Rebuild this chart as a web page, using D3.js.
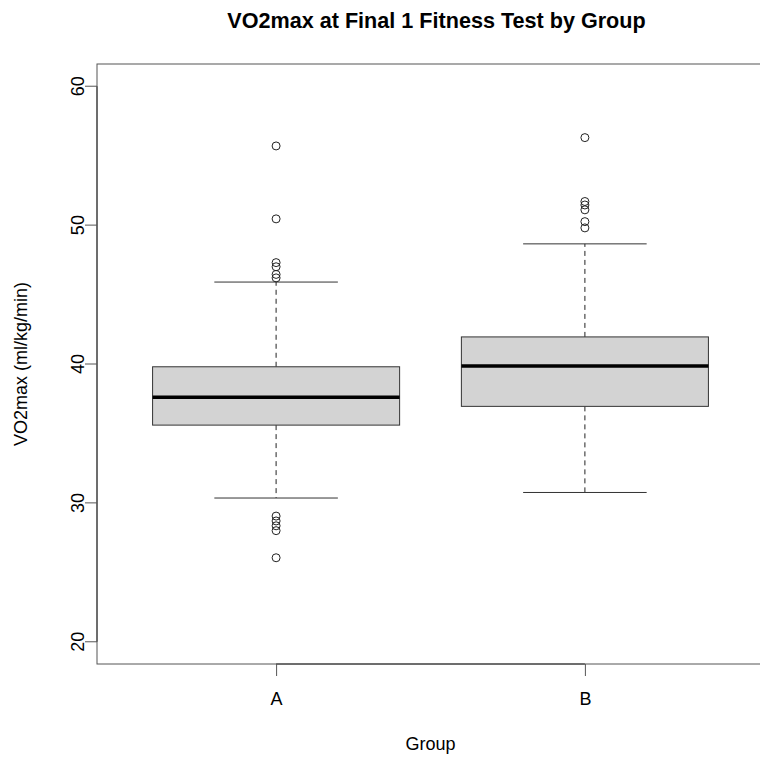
<!DOCTYPE html>
<html>
<head>
<meta charset="utf-8">
<script src="https://cdn.jsdelivr.net/npm/d3@7"></script>
<style>
  body { margin: 0; background: #fff; }
  text { font-family: "Liberation Sans", Arial, Helvetica, sans-serif; fill: #000; }
</style>
</head>
<body>
<div id="chart"></div>
<script>
const GROUPS = ["A", "B"];
const Q1 = [35.6, 36.95];
const MEDIAN = [37.6, 39.85];
const Q3 = [39.8, 41.95];
const WHISKER_LOW = [30.35, 30.75];
const WHISKER_HIGH = [45.9, 48.65];
const OUTLIERS_A = [55.7, 50.45, 47.3, 47.0, 46.45, 46.2, 29.05, 28.7, 28.35, 28.0, 26.05];
const OUTLIERS_B = [56.3, 51.7, 51.45, 51.1, 50.25, 49.8];
const Y_TICKS = [20, 30, 40, 50, 60];

const boxes = GROUPS.map((g, i) => ({
    group: g,
    pos: i + 1,
    q1: Q1[i], median: MEDIAN[i], q3: Q3[i],
    lo: WHISKER_LOW[i], hi: WHISKER_HIGH[i]
}));
const outliers = [
    ...OUTLIERS_A.map(v => ({ pos: 1, value: v })),
    ...OUTLIERS_B.map(v => ({ pos: 2, value: v }))
];

const width = 760, height = 757;
const plot = { left: 97, right: 764, top: 64, bottom: 664 };

const svg = d3.select("#chart")
    .append("svg")
    .attr("width", width)
    .attr("height", height)
    .style("background", "#fff");

// R style: xlim 0.5..2.5 extended 4%, ylim 20..60 extended 4%
const x = d3.scaleLinear()
    .domain([0.42, 2.58])
    .range([plot.left, plot.right]);

const y = d3.scaleLinear()
    .domain([18.4, 61.6])
    .range([plot.bottom, plot.top]);

const boxW = 0.8 * (x(2) - x(1));
const stapleW = boxW / 2;

const g = svg.append("g");

// whiskers (dashed)
g.selectAll(".whisker")
    .data(boxes.flatMap(d => [[d.pos, d.q3, d.hi], [d.pos, d.q1, d.lo]]))
    .enter()
    .append("line")
    .attr("x1", d => x(d[0]))
    .attr("x2", d => x(d[0]))
    .attr("y1", d => y(d[1]))
    .attr("y2", d => y(d[2]))
    .attr("stroke", "#222")
    .attr("stroke-width", 1)
    .attr("stroke-dasharray", "5,4");

// staples
g.selectAll(".staple")
    .data(boxes.flatMap(d => [[d.pos, d.hi], [d.pos, d.lo]]))
    .enter()
    .append("line")
    .attr("x1", d => x(d[0]) - stapleW / 2)
    .attr("x2", d => x(d[0]) + stapleW / 2)
    .attr("y1", d => y(d[1]))
    .attr("y2", d => y(d[1]))
    .attr("stroke", "#333")
    .attr("stroke-width", 1);

// boxes
g.selectAll(".box")
    .data(boxes)
    .enter()
    .append("rect")
    .attr("x", d => x(d.pos) - boxW / 2)
    .attr("width", boxW)
    .attr("y", d => y(d.q3))
    .attr("height", d => y(d.q1) - y(d.q3))
    .attr("fill", "#d3d3d3")
    .attr("stroke", "#333")
    .attr("stroke-width", 1);

// medians
g.selectAll(".median")
    .data(boxes)
    .enter()
    .append("line")
    .attr("x1", d => x(d.pos) - boxW / 2)
    .attr("x2", d => x(d.pos) + boxW / 2)
    .attr("y1", d => y(d.median))
    .attr("y2", d => y(d.median))
    .attr("stroke", "#000")
    .attr("stroke-width", 3.5);

// outliers
g.selectAll(".outlier")
    .data(outliers)
    .enter()
    .append("circle")
    .attr("cx", d => x(d.pos))
    .attr("cy", d => y(d.value))
    .attr("r", 4)
    .attr("fill", "none")
    .attr("stroke", "#222")
    .attr("stroke-width", 1);

// frame
svg.append("rect")
    .attr("x", plot.left)
    .attr("y", plot.top)
    .attr("width", plot.right - plot.left)
    .attr("height", plot.bottom - plot.top)
    .attr("fill", "none")
    .attr("stroke", "#555")
    .attr("stroke-width", 1);

// y axis
const yAxis = svg.append("g")
    .attr("transform", `translate(${plot.left},0)`)
    .call(d3.axisLeft(y).tickValues(Y_TICKS).tickSize(12).tickPadding(13));
yAxis.select(".domain").attr("d", `M0,${y(20)}V${y(60)}`).attr("stroke", "#333");
yAxis.selectAll(".tick").attr("transform", "translate(0,0)");
yAxis.selectAll(".tick line")
    .attr("stroke", "#555")
    .attr("y1", d => y(d)).attr("y2", d => y(d));
yAxis.selectAll("text")
    .style("font-size", "18px")
    .attr("x", 0)
    .attr("y", -13)
    .attr("dy", 0)
    .attr("text-anchor", "middle")
    .attr("transform", d => `translate(0,${y(d)}) rotate(-90)`);

// x axis
const xAxis = svg.append("g")
    .attr("transform", `translate(0,${plot.bottom})`)
    .call(d3.axisBottom(x).tickValues([1, 2]).tickFormat((d, i) => GROUPS[i])
        .tickSize(12).tickPadding(13));
xAxis.select(".domain").attr("d", `M${x(1)},0H${x(2)}`).attr("stroke", "#333");
xAxis.selectAll(".tick line").attr("stroke", "#555");
xAxis.selectAll("text")
    .style("font-size", "18px")
    .attr("dy", 0)
    .attr("y", 41);

// labels
svg.append("text")
    .attr("x", (plot.left + plot.right) / 2 + 6)
    .attr("y", 28)
    .attr("text-anchor", "middle")
    .style("font-size", "21.6px")
    .style("font-weight", "bold")
    .text("VO2max at Final 1 Fitness Test by Group");

svg.append("text")
    .attr("x", (plot.left + plot.right) / 2)
    .attr("y", 750)
    .attr("text-anchor", "middle")
    .style("font-size", "18px")
    .text("Group");

svg.append("text")
    .attr("transform", `translate(27,${(plot.top + plot.bottom) / 2}) rotate(-90)`)
    .attr("text-anchor", "middle")
    .style("font-size", "18px")
    .text("VO2max (ml/kg/min)");
</script>
</body>
</html>
